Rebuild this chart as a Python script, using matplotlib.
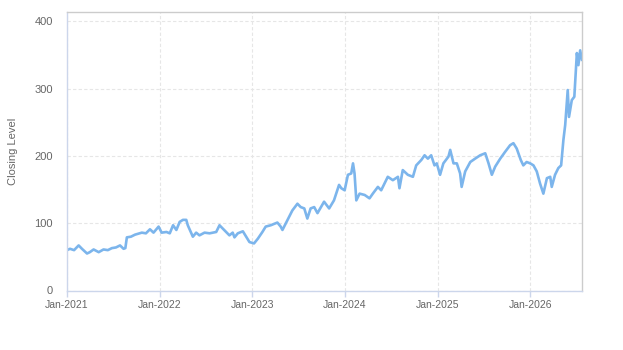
import matplotlib
matplotlib.use("Agg")
import matplotlib.pyplot as plt
import matplotlib.dates as mdates
import numpy as np
import pandas as pd

plt.rcParams['font.family'] = ['Liberation Sans', 'DejaVu Sans']

# closing level
dates = [
    "2021-01-01", "2021-01-13", "2021-01-29", "2021-02-16", "2021-03-01", "2021-03-21",
    "2021-04-01", "2021-04-16", "2021-05-06", "2021-05-25", "2021-06-11", "2021-06-27",
    "2021-07-13", "2021-07-29", "2021-08-12", "2021-08-19", "2021-08-25", "2021-09-10",
    "2021-09-26", "2021-10-23", "2021-11-08", "2021-11-24", "2021-12-08", "2021-12-28",
    "2022-01-09", "2022-01-28", "2022-02-10", "2022-02-23", "2022-03-08", "2022-03-21",
    "2022-04-03", "2022-04-16", "2022-04-22", "2022-05-06", "2022-05-12", "2022-05-25",
    "2022-06-07", "2022-06-27", "2022-07-17", "2022-07-30", "2022-08-12", "2022-08-25",
    "2022-09-07", "2022-09-20", "2022-10-03", "2022-10-16", "2022-10-23", "2022-11-05",
    "2022-11-25", "2022-12-08", "2022-12-21",
    "2023-01-08", "2023-01-23", "2023-02-10", "2023-02-23", "2023-03-15", "2023-04-10",
    "2023-04-23", "2023-04-30", "2023-05-20", "2023-06-08", "2023-06-28", "2023-07-11",
    "2023-07-25", "2023-08-06", "2023-08-19", "2023-09-02", "2023-09-15", "2023-10-11",
    "2023-10-31", "2023-11-19", "2023-12-09", "2023-12-18", "2023-12-31",
    "2024-01-13", "2024-01-26", "2024-02-02", "2024-02-08", "2024-02-15", "2024-02-28",
    "2024-03-19", "2024-04-07", "2024-04-20", "2024-05-10", "2024-05-23", "2024-06-18",
    "2024-07-08", "2024-07-28", "2024-08-03", "2024-08-16", "2024-09-05", "2024-09-25",
    "2024-10-08", "2024-10-28", "2024-11-10", "2024-11-23", "2024-12-06", "2024-12-19",
    "2024-12-28",
    "2025-01-10", "2025-01-23", "2025-02-12", "2025-02-19", "2025-03-04", "2025-03-17",
    "2025-03-30", "2025-04-05", "2025-04-19", "2025-05-09", "2025-05-28", "2025-06-17",
    "2025-07-07", "2025-07-20", "2025-08-02", "2025-08-15", "2025-09-04", "2025-09-23",
    "2025-10-13", "2025-10-26", "2025-11-08", "2025-11-24", "2025-12-04", "2025-12-17",
    "2025-12-31",
    "2026-01-13", "2026-01-26", "2026-02-08", "2026-02-21", "2026-03-07", "2026-03-20",
    "2026-03-26", "2026-04-08", "2026-04-21", "2026-05-02", "2026-05-11", "2026-05-18",
    "2026-05-28", "2026-06-02", "2026-06-13", "2026-06-23", "2026-07-03", "2026-07-09",
    "2026-07-16", "2026-07-23",
]
closing = [
    60, 62, 60, 67, 62, 55,
    57, 61, 57, 61, 60, 63,
    64, 67, 62, 63, 79, 80,
    83, 86, 85, 91, 86, 95,
    86, 87, 85, 97, 90, 102,
    105, 105, 97, 85, 80, 86,
    82, 86, 85, 86, 87, 97,
    92, 87, 82, 86, 79, 85,
    88, 80, 72,
    70, 77, 87, 95, 97, 101,
    95, 90, 105, 119, 129, 124,
    122, 107, 122, 124, 115, 132,
    122, 134, 157, 152, 149,
    172, 174, 189, 174, 134, 144,
    142, 137, 144, 154, 149, 169,
    164, 169, 152, 179, 172, 169,
    186, 194, 201, 196, 201, 186,
    189,
    172, 189, 199, 209, 189, 189,
    174, 154, 177, 191, 196, 201,
    204, 189, 172, 184, 196, 206,
    216, 219, 211, 194, 186, 191,
    189,
    186, 177, 159, 144, 167, 169,
    154, 172, 182, 186, 224, 246,
    298, 258, 283, 288, 353, 335,
    357, 343,
]
year_ticks = ["2021-01-01", "2022-01-01", "2023-01-01", "2024-01-01", "2025-01-01", "2026-01-01"]
y_ticks = [0, 100, 200, 300, 400]

x = pd.to_datetime(dates)
fig = plt.figure(figsize=(6.23, 3.5), dpi=100)
ax = fig.add_axes([0.1075, 0.17, 0.8266, 0.7957])

ax.plot(x, closing, color='#7cb5ec', lw=1.9, solid_joinstyle='round')

ax.set_xlim(x[0], x[-1])
ax.set_ylim(0, 414)
ax.set_yticks(y_ticks)
ax.set_xticks(pd.to_datetime(year_ticks))
ax.xaxis.set_major_formatter(mdates.DateFormatter('%b-%Y'))

# light dashed grid
ax.grid(True, color='#e6e6e6', linestyle=(0, (3, 2)), linewidth=0.8)
ax.set_axisbelow(True)

for side in ['top', 'right']:
    ax.spines[side].set_color('#cccccc')
for side in ['left', 'bottom']:
    ax.spines[side].set_color('#ccd6eb')
for s in ax.spines.values():
    s.set_linewidth(1)

ax.tick_params(axis='y', length=0, pad=10, labelsize=8, labelcolor='#666666')
ax.tick_params(axis='x', length=4, width=1, color='#ccd6eb', pad=3,
               labelsize=7.5, labelcolor='#666666')

ax.set_ylabel('Closing Level', fontsize=8, color='#666666', labelpad=12)

fig.savefig('out.png', dpi=100)
